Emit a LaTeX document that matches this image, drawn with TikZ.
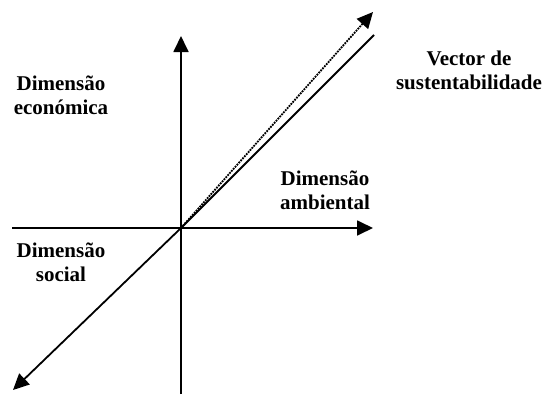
\documentclass[tikz,border=0pt]{standalone}
\usepackage{fontspec}
\setmainfont{Liberation Serif}
\usetikzlibrary{positioning, arrows, arrows.meta}
\tikzset{
    >={Triangle[length=16pt, width=15pt]}, % Big filled arrowheads
    axis/.style={line width=1.8pt}, % Axes and vector
    label/.style={font=\bfseries\fontsize{21}{24}\selectfont, align=center, inner sep=0pt}, % Texts
}

\begin{document}
\begin{tikzpicture}[x=1pt, y=-1pt]
    \useasboundingbox (0,0) rectangle (544,394);

    \coordinate (o) at (181,228);
    \coordinate (top) at (181,36);
    \coordinate (bottom) at (181,394);
    \coordinate (left) at (12,228);
    \coordinate (right) at (373,228);
    \coordinate (down) at (13,390);
    \coordinate (up) at (374,35);
    \coordinate (vec) at (373,12);

    \draw[axis, ->] (bottom) -- (top);
    \draw[axis, ->] (left) -- (right);
    \draw[axis, ->] (o) -- (down);
    \draw[axis] (o) -- (up);
    \draw[axis, densely dotted, ->] (o) -- (vec);

    \node[label] (econ) at (61,95) {Dimensão\\económica};
    \node[label] (amb) at (325,190) {Dimensão\\ambiental};
    \node[label] (soc) at (61,262) {Dimensão\\social};
    \node[label] (sust) at (469,70) {Vector de\\sustentabilidade};
\end{tikzpicture}
\end{document}
